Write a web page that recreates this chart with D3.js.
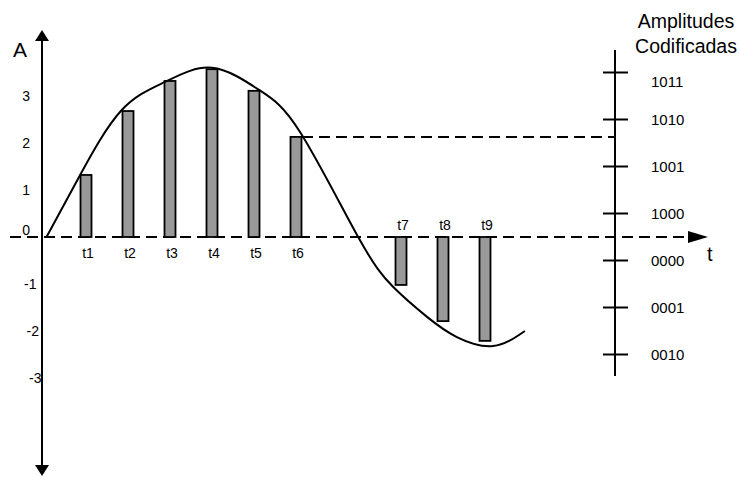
<!doctype html>
<html lang="pt">
<head>
    <meta charset="UTF-8">
    <script src="https://cdnjs.cloudflare.com/ajax/libs/d3/7.8.5/d3.min.js"></script>
    <title>Amplitudes Codificadas</title>
    <style>
        body { margin: 0; background: #fff; }
        text { font-family: "Liberation Sans", Arial, sans-serif; fill: #000; }
    </style>
</head>
<body>
<div id="Area"></div>
<script>
    // sample instants (time units) and sampled amplitudes
    const sampleNames = ["t1", "t2", "t3", "t4", "t5", "t6", "t7", "t8", "t9"];
    const sampleTimes = [1, 2, 3, 4, 5, 6, 8.5, 9.5, 10.5];
    const sampleValues = [1.32, 2.68, 3.32, 3.57, 3.11, 2.13, -1.02, -1.79, -2.21];

    // analog signal, traced by hand
    const signalT = [0.06, 0.86, 1.83, 2.88, 4.0, 5.12, 6.10, 7.48, 8.31, 9.12, 9.83, 10.69, 11.45];
    const signalA = [0, 1.32, 2.68, 3.30, 3.60, 3.13, 2.23, 0, -1.06, -1.70, -2.13, -2.32, -2.0];

    // left axis labels
    const ampTicks = [3, 2, 1, 0, -1, -2, -3];

    // coded levels on the right axis
    const codeLabels = ["1011", "1010", "1001", "1000", "0000", "0001", "0010"];
    const codeLevels = [3.5, 2.5, 1.5, 0.5, -0.5, -1.5, -2.5];

    const width = 740, height = 477;

    const svg = d3.select("#Area")
        .append("svg")
        .attr("width", width)
        .attr("height", height);

    const x = d3.scaleLinear().domain([0, 16]).range([44, 44 + 16 * 42]);
    const y = d3.scaleLinear().domain([-5, 5]).range([237 + 235, 237 - 235]);

    const axisX = 42, codeX = 615;

    // zero line (dashed) with arrow
    svg.append("line")
        .attr("x1", 10).attr("x2", 690)
        .attr("y1", y(0)).attr("y2", y(0))
        .attr("stroke", "black").attr("stroke-width", 2)
        .attr("stroke-dasharray", "11,6");
    svg.append("path")
        .attr("d", `M708,${y(0)} L688,${y(0) - 6} L688,${y(0) + 6} Z`)
        .attr("fill", "black");

    // vertical amplitude axis with two arrows
    svg.append("line")
        .attr("x1", axisX).attr("x2", axisX)
        .attr("y1", 38).attr("y2", 468)
        .attr("stroke", "black").attr("stroke-width", 2);
    svg.append("path")
        .attr("d", `M${axisX},30 L${axisX - 7},41 L${axisX + 7},41 Z`)
        .attr("fill", "black");
    svg.append("path")
        .attr("d", `M${axisX},476 L${axisX - 7},465 L${axisX + 7},465 Z`)
        .attr("fill", "black");

    svg.append("text")
        .attr("x", 13).attr("y", 57)
        .style("font-size", "21px")
        .text("A");
    svg.append("text")
        .attr("x", 707).attr("y", 261)
        .style("font-size", "20px")
        .text("t");

    svg.selectAll("text.amp")
        .data(ampTicks)
        .join("text")
        .attr("class", "amp")
        .attr("text-anchor", "end")
        .attr("x", d => d >= 0 ? 30 : 34 - d * 2.5)
        .attr("y", d => d === 0 ? y(0) - 2 : y(d) + 5)
        .style("font-size", "14px")
        .text(d => d);

    // dashed projection from t6 to the coded axis
    const i6 = 5;
    svg.append("line")
        .attr("x1", x(sampleTimes[i6]) + 6).attr("x2", codeX)
        .attr("y1", y(sampleValues[i6])).attr("y2", y(sampleValues[i6]))
        .attr("stroke", "black").attr("stroke-width", 2)
        .attr("stroke-dasharray", "11,6");

    // sample bars
    const samples = sampleNames.map((n, i) => ({name: n, t: sampleTimes[i], v: sampleValues[i]}));
    svg.selectAll("rect.bar")
        .data(samples)
        .join("rect")
        .attr("class", "bar")
        .attr("x", d => x(d.t) - 5.5)
        .attr("width", 11)
        .attr("y", d => Math.min(y(d.v), y(0)))
        .attr("height", d => Math.abs(y(d.v) - y(0)))
        .attr("fill", "#999999")
        .attr("stroke", "black")
        .attr("stroke-width", 1.8);

    svg.selectAll("text.tname")
        .data(samples)
        .join("text")
        .attr("class", "tname")
        .attr("text-anchor", "middle")
        .attr("x", d => x(d.t) + 2)
        .attr("y", d => d.v >= 0 ? y(0) + 21 : y(0) - 7)
        .style("font-size", "14px")
        .text(d => d.name);

    // analog signal
    const line = d3.line()
        .x(d => x(d[0]))
        .y(d => y(d[1]))
        .curve(d3.curveNatural);
    svg.append("path")
        .datum(signalT.map((t, i) => [t, signalA[i]]))
        .attr("d", line)
        .attr("fill", "none")
        .attr("stroke", "black")
        .attr("stroke-width", 2);

    // coded amplitude axis
    svg.append("line")
        .attr("x1", codeX).attr("x2", codeX)
        .attr("y1", 50).attr("y2", 376)
        .attr("stroke", "black").attr("stroke-width", 2);
    svg.selectAll("line.ctick")
        .data(codeLevels)
        .join("line")
        .attr("class", "ctick")
        .attr("x1", codeX - 12).attr("x2", codeX + 13)
        .attr("y1", d => y(d)).attr("y2", d => y(d))
        .attr("stroke", "black").attr("stroke-width", 2);
    svg.selectAll("text.code")
        .data(codeLabels)
        .join("text")
        .attr("class", "code")
        .attr("x", 651)
        .attr("y", (d, i) => y(codeLevels[i]) + (i === 0 ? 14 : 5))
        .style("font-size", "15px")
        .text(d => d);

    svg.append("text")
        .attr("x", 686).attr("y", 28)
        .attr("text-anchor", "middle")
        .style("font-size", "19.5px")
        .text("Amplitudes");
    svg.append("text")
        .attr("x", 686).attr("y", 53)
        .attr("text-anchor", "middle")
        .style("font-size", "19.5px")
        .text("Codificadas");
</script>
</body>
</html>
